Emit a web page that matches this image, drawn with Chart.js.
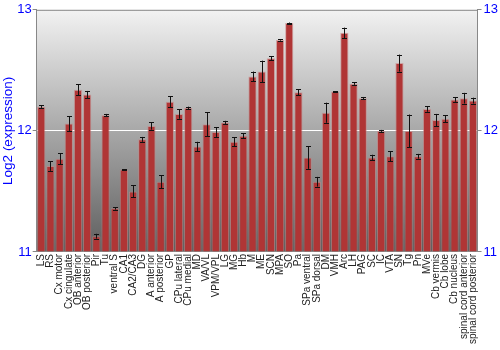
<!DOCTYPE html>
<html>
<head>
<meta charset="utf-8">
<script src="https://cdn.jsdelivr.net/npm/chart.js@4/dist/chart.umd.min.js"></script>
<style>
  body { margin: 0; background: #fff; }
  #wrap { width: 500px; height: 350px; }
</style>
</head>
<body>
<div id="wrap"><canvas id="expressionChart"></canvas></div>
<script>
const regions = ["LS", "RS", "Cx motor", "Cx cingulate", "OB anterior", "OB posterior", "Pir", "Tu",
  "ventral S", "CA1", "CA2/CA3", "DG", "A anterior", "A posterior", "GP", "CPu lateral", "CPu medial",
  "MD", "VA/VL", "VPM/VPL", "LG", "MG", "Hb", "M", "ME", "SCN", "MPA", "SO", "Pa", "SPa ventral",
  "SPa dorsal", "DM", "VMH", "Arc", "LH", "PAG", "SC", "IC", "VTA", "SN", "Tg", "Pn", "MVe",
  "Cb vermis", "Cb lobe", "Cb nucleus", "spinal cord anterior", "spinal cord posterior"];

const expression = [12.20, 11.71, 11.77, 12.06, 12.34, 12.30, 11.13, 12.13,
  11.36, 11.68, 11.50, 11.93, 12.04, 11.58, 12.24, 12.14, 12.19,
  11.87, 12.055, 11.99, 12.07, 11.91, 11.96, 12.45, 12.49, 12.60, 12.75, 12.89, 12.32, 11.78,
  11.58, 12.15, 12.325, 12.81, 12.39, 12.27, 11.78, 12.00, 11.79, 12.56, 12.00, 11.79, 12.18,
  12.09, 12.10, 12.26, 12.27, 12.25];

const errors = [0.01, 0.04, 0.044, 0.06, 0.045, 0.03, 0.02, 0.01,
  0.01, 0.005, 0.05, 0.02, 0.03, 0.055, 0.045, 0.04, 0.01,
  0.04, 0.10, 0.04, 0.013, 0.037, 0.02, 0.04, 0.09, 0.017, 0.005, 0.005, 0.025, 0.094,
  0.04, 0.083, 0.004, 0.043, 0.01, 0.01, 0.023, 0.008, 0.04, 0.07, 0.135, 0.02, 0.022,
  0.05, 0.028, 0.02, 0.044, 0.024];

const yTicks = [11, 12, 13];

// gray gradient behind the plot area
const plotBackground = {
  id: "plotBackground",
  beforeDraw(chart) {
    const { ctx, chartArea: a } = chart;
    const g = ctx.createLinearGradient(0, a.top, 0, a.bottom);
    g.addColorStop(0, "#f2f2f2");
    g.addColorStop(1, "#5e5e5e");
    ctx.save();
    ctx.fillStyle = g;
    ctx.fillRect(a.left, a.top, a.right - a.left, a.bottom - a.top);
    ctx.restore();
  },
  afterDraw(chart) {
    const { ctx, chartArea: a } = chart;
    ctx.save();
    ctx.strokeStyle = "#888";
    ctx.lineWidth = 1;
    ctx.beginPath();
    ctx.moveTo(a.left, a.top + 0.5);
    ctx.lineTo(a.right, a.top + 0.5);
    ctx.stroke();
    ctx.restore();
  }
};

const errorBars = {
  id: "errorBars",
  afterDatasetsDraw(chart) {
    const { ctx } = chart;
    const y = chart.scales.y;
    const meta = chart.getDatasetMeta(0);
    ctx.save();
    ctx.strokeStyle = "#111";
    ctx.lineWidth = 1;
    meta.data.forEach((bar, i) => {
      const x = Math.round(bar.x) + 0.5;
      const top = y.getPixelForValue(expression[i] + errors[i]);
      const bottom = y.getPixelForValue(expression[i] - errors[i]);
      ctx.beginPath();
      ctx.moveTo(x, top);
      ctx.lineTo(x, bottom);
      ctx.moveTo(x - 2.5, Math.round(top) + 0.5);
      ctx.lineTo(x + 2.5, Math.round(top) + 0.5);
      ctx.moveTo(x - 2.5, Math.round(bottom) + 0.5);
      ctx.lineTo(x + 2.5, Math.round(bottom) + 0.5);
      ctx.stroke();
    });
    ctx.restore();
  }
};

function barFill(context) {
  const chart = context.chart;
  const el = context.element;
  if (!chart.chartArea || !el || !el.width) return "#b03535";
  const x0 = el.x - el.width / 2;
  const x1 = el.x + el.width / 2;
  const g = chart.ctx.createLinearGradient(x0, 0, x1, 0);
  g.addColorStop(0, "#d86a6a");
  g.addColorStop(0.2, "#c44444");
  g.addColorStop(0.65, "#a83030");
  g.addColorStop(1, "#721a1a");
  return g;
}

const ctx = document.getElementById("expressionChart").getContext("2d");
new Chart(ctx, {
  type: "bar",
  data: {
    labels: regions,
    datasets: [{
      label: "Log2 (expression)",
      data: expression,
      backgroundColor: barFill,
      borderColor: "rgba(200,130,130,0.6)",
      borderWidth: 1,
      categoryPercentage: 1,
      barPercentage: 0.9,
      base: 11
    }]
  },
  options: {
    responsive: true,
    maintainAspectRatio: false,
    animation: false,
    layout: { padding: { top: 2, left: 0, right: 0, bottom: 4 } },
    plugins: { legend: { display: false }, tooltip: { enabled: false } },
    scales: {
      x: {
        grid: { display: false, drawTicks: false },
        border: { display: true, color: "#888" },
        ticks: {
          autoSkip: false,
          maxRotation: 90,
          minRotation: 90,
          padding: 2,
          color: "#222",
          font: { family: "Liberation Sans", size: 10 }
        }
      },
      y: {
        min: 11,
        max: 13,
        afterBuildTicks: (axis) => { axis.ticks = yTicks.map(v => ({ value: v })); },
        grid: {
          color: (c) => c.tick && c.tick.value === 12 ? "#ffffff" : "rgba(0,0,0,0)",
          tickColor: "#888",
          tickLength: 4
        },
        border: { display: true, color: "#888" },
        ticks: { color: "#0000ff", font: { family: "Liberation Sans", size: 13 }, padding: 1 },
        title: {
          display: true,
          text: "Log2 (expression)",
          color: "#0000ff",
          font: { family: "Liberation Sans", size: 13.5 },
          padding: 0
        }
      },
      y2: {
        position: "right",
        min: 11,
        max: 13,
        afterBuildTicks: (axis) => { axis.ticks = yTicks.map(v => ({ value: v })); },
        grid: { drawOnChartArea: false, tickColor: "#888", tickLength: 4 },
        border: { display: true, color: "#888" },
        ticks: { color: "#0000ff", font: { family: "Liberation Sans", size: 13 }, padding: 2 }
      }
    }
  },
  plugins: [plotBackground, errorBars]
});
</script>
</body>
</html>
